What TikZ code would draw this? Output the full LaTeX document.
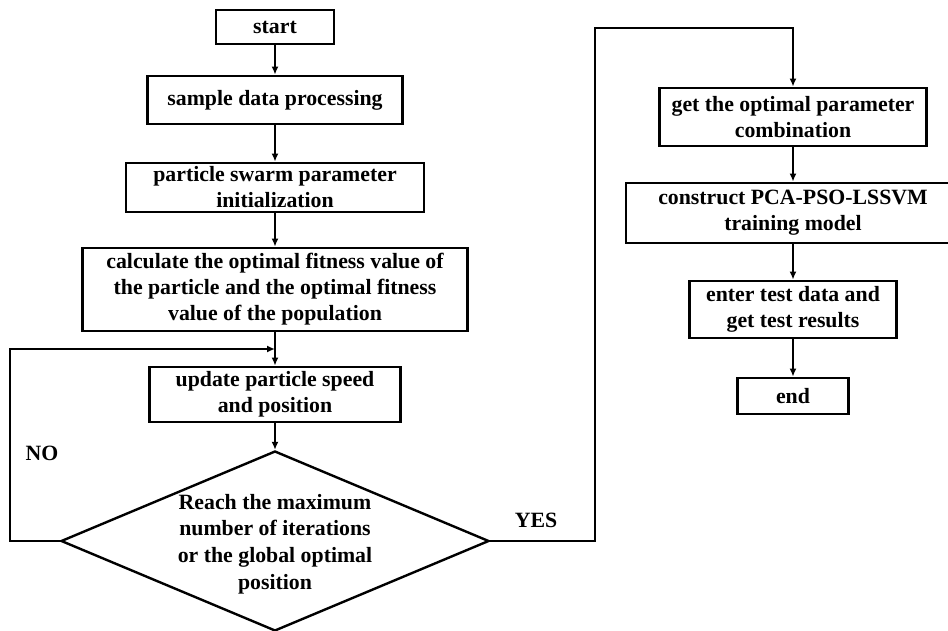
\documentclass[tikz,border=0pt]{standalone}
\usepackage{fontspec}
\setmainfont{Liberation Serif}
\usetikzlibrary{shapes.geometric,arrows.meta}

\begin{document}
\begin{tikzpicture}[x=0.5pt,y=-0.5pt,
   box/.style={draw,line width=1.4pt,align=center,inner sep=0pt,
               font=\bfseries\fontsize{10.9}{13}\selectfont},
   decision/.style={draw,diamond,line width=1.2pt,inner sep=0pt,
                    minimum width=214pt,minimum height=90pt},
   lbl/.style={align=center,font=\bfseries\fontsize{10.9}{13.3}\selectfont},
   flow/.style={line width=1pt,-{Latex[length=4pt,width=3.5pt]}}]
   \useasboundingbox (0,0) rectangle (948,631);

   % PSO loop
   \node[box,minimum width=59pt,minimum height=17pt] (start) at (275,27) {start};
   \node[box,minimum width=127.5pt,minimum height=24pt] (sample) at (275,100) {sample data processing};
   \node[box,minimum width=149pt,minimum height=24.5pt] (init) at (275,187.5) {particle swarm parameter\\initialization};
   \node[box,minimum width=192.5pt,minimum height=41.5pt] (fit) at (275,289.5)
      {calculate the optimal fitness value of\\the particle and the optimal fitness\\value of the population};
   \node[box,minimum width=125.5pt,minimum height=27.5pt] (update) at (275,394.5) {update particle speed\\and position};
   \node[decision] (stop) at (275,541) {};
   \node[lbl] at (275,544) {Reach the maximum\\number of iterations\\or the global optimal\\position};
   \coordinate (back) at (275,349);

   % LSSVM part
   \coordinate (turn) at (793,28);
   \node[box,minimum width=133.5pt,minimum height=29pt] (best) at (793,117) {get the optimal parameter\\combination};
   \node[box,minimum width=167pt,minimum height=30pt] (train) at (793,213) {construct PCA-PSO-LSSVM\\training model};
   \node[box,minimum width=103.5pt,minimum height=28.5pt] (test) at (793,309.5) {enter test data and\\get test results};
   \node[box,minimum width=55.5pt,minimum height=18pt] (end) at (793,396) {end};

   \draw[flow] (start) -- (sample);
   \draw[flow] (sample) -- (init);
   \draw[flow] (init) -- (fit);
   \draw[flow] (fit) -- (update);
   \draw[flow] (update) -- (stop);
   \draw[flow] (stop.west) -- ++(-50,0) |- (back);
   \draw[flow] (stop.east) -- ++(105,0) |- (turn) -- (best);
   \draw[flow] (best) -- (train);
   \draw[flow] (train) -- (test);
   \draw[flow] (test) -- (end);

   \node[lbl] (no) at (42,453) {NO};
   \node[lbl] (yes) at (536,520) {YES};
\end{tikzpicture}
\end{document}
